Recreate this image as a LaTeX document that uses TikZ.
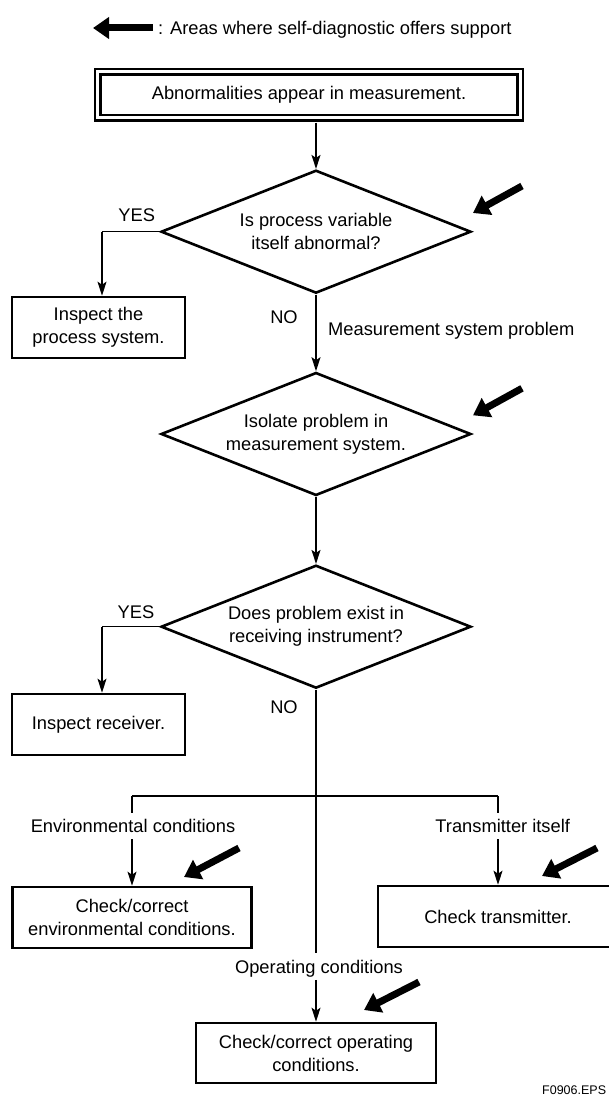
\documentclass[tikz,border=0pt]{standalone}
\usepackage{fontspec}
\setmainfont{Liberation Sans}
\usetikzlibrary{shapes.geometric,arrows.meta}
\begin{document}
\begin{tikzpicture}[x=1pt,y=-1pt,
  font=\fontsize{18.3pt}{23pt}\selectfont,
  box/.style={draw,line width=2.6pt,inner sep=0pt,align=center},
  dec/.style={draw,diamond,line width=2.6pt,inner sep=0pt,minimum width=310pt,minimum height=123pt,aspect=2.5,align=center},
  conn/.style={line width=1.4pt,-{Stealth[length=14pt,width=9pt,inset=3pt]}},
  plain/.style={line width=1.4pt},
  lbl/.style={inner sep=0pt},
  gaplbl/.style={inner xsep=0pt,inner ysep=6.5pt,text height=13.3pt,text depth=0pt},
  support/.style={line width=7pt,-{Triangle[length=16pt,width=21pt]}},
]
\useasboundingbox (0,0) rectangle (608,1097);

% legend
\coordinate (legtail) at (153,28);
\coordinate (legtip) at (93,28);
\draw[support] (legtail) -- (legtip);
\node[lbl,anchor=base west] (legtext) at (158,34.5) {: Areas where self-diagnostic offers support};

% nodes
\node[draw,line width=2.2pt,double=white,double distance=3.3pt,inner sep=0pt,minimum width=422.5pt,minimum height=46pt] (top) at (309,94.75) {Abnormalities appear in measurement.};
\node[dec] (d1) at (316,231.7) {Is process variable\\itself abnormal?};
\node[dec] (d2) at (316,434) {Isolate problem in\\measurement system.};
\node[dec] (d3) at (316,626.7) {Does problem exist in\\receiving instrument?};
\node[box,minimum width=173pt,minimum height=61pt] (procbox) at (98.5,327.5) {Inspect the\\process system.};
\node[box,minimum width=173pt,minimum height=61pt] (recvbox) at (98.5,724.5) {Inspect receiver.};
\node[box,minimum width=239pt,minimum height=61pt] (envbox) at (132,917.5) {Check/correct\\environmental conditions.};
\node[box,minimum width=240pt,minimum height=61pt] (trbox) at (498,916.5) {Check transmitter.};
\node[box,minimum width=240pt,minimum height=60pt] (opbox) at (316,1053) {Check/correct operating\\conditions.};

% labels
\node[lbl,anchor=base] (yes1) at (136.7,221.6) {YES};
\node[lbl,anchor=base] (no1) at (284,323.3) {NO};
\node[lbl,anchor=base west] (msp) at (328,335.6) {Measurement system problem};
\node[lbl,anchor=base] (yes2) at (136,618.3) {YES};
\node[lbl,anchor=base] (no2) at (284,713.3) {NO};
\node[gaplbl] (envlab) at (133,826) {Environmental conditions};
\node[gaplbl] (trlab) at (502.7,826) {Transmitter itself};
\node[gaplbl] (oplab) at (319,966.5) {Operating conditions};
\node[lbl,anchor=base west,font=\fontsize{12.5pt}{14pt}\selectfont] (fig) at (542,1094) {F0906.EPS};

% connectors
\draw[conn] ([yshift=-3.8pt]top.south -| d1.north) -- (d1.north);
\draw[conn] (d1.south) -- (d2.north);
\draw[conn] (d2.south) -- (d3.north);

\coordinate (y1) at (102,231.7);
\draw[plain] (d1.west) -- (y1);
\draw[conn] (y1) -- (y1 |- procbox.north);
\coordinate (y2) at (102,626.7);
\draw[plain] (d3.west) -- (y2);
\draw[conn] (y2) -- (y2 |- recvbox.north);

\draw[plain] (d3.south) -- (d3.south |- oplab.north);
\draw[conn] (d3.south |- oplab.south) -- (opbox.north);

\coordinate (jl) at (132,796);
\coordinate (jr) at (498,796);
\draw[plain] (jl) -- (jr);
\draw[plain] (jl) -- (jl |- envlab.north);
\draw[conn] (jl |- envlab.south) -- (envbox.north);
\draw[plain] (jr) -- (jr |- trlab.north);
\draw[conn] (jr |- trlab.south) -- (trbox.north);

% support arrows
\coordinate (s1t) at (522,186);   \coordinate (s1h) at (473,213);
\coordinate (s2t) at (522,388.3); \coordinate (s2h) at (473,415.3);
\coordinate (s3t) at (239,848);   \coordinate (s3h) at (184,877);
\coordinate (s4t) at (597,848);   \coordinate (s4h) at (542,876);
\coordinate (s5t) at (419,982);   \coordinate (s5h) at (364,1010);
\draw[support] (s1t) -- (s1h);
\draw[support] (s2t) -- (s2h);
\draw[support] (s3t) -- (s3h);
\draw[support] (s4t) -- (s4h);
\draw[support] (s5t) -- (s5h);
\end{tikzpicture}
\end{document}
